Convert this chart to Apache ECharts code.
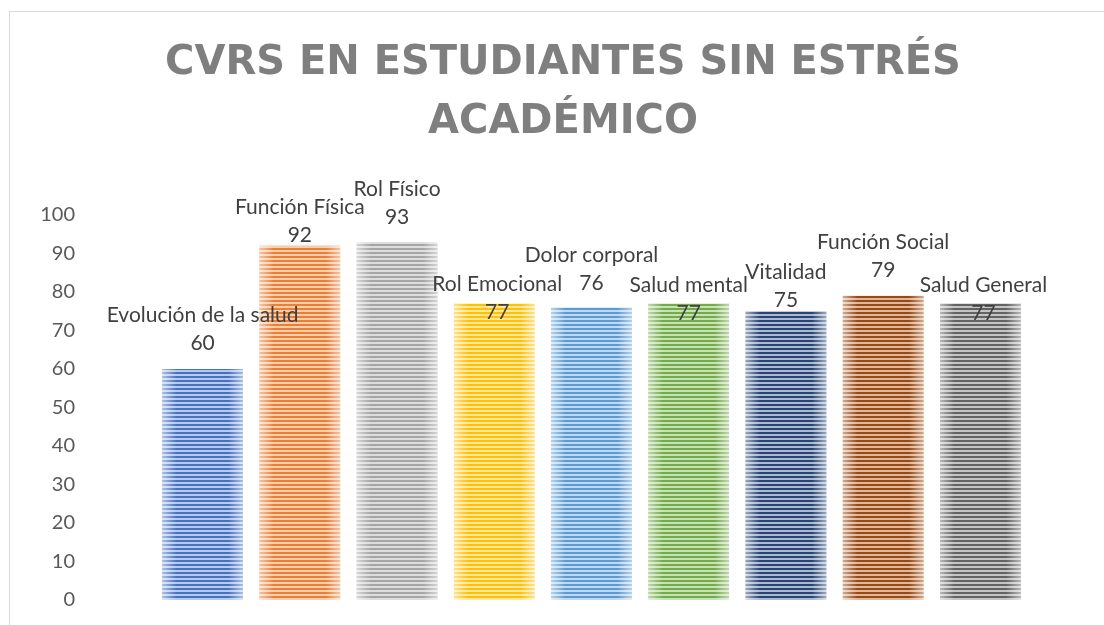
<!DOCTYPE html>
<html lang="es">
<head>
  <meta charset="UTF-8">
  <title>CVRS en estudiantes sin estrés académico</title>
  <script src="https://cdn.jsdelivr.net/npm/echarts@6/dist/echarts.min.js"></script>
  <style>
    html, body {
      margin: 0;
      padding: 0;
      background: #ffffff;
      overflow: hidden;
    }
    #frame {
      position: absolute;
      left: 9px;
      top: 11px;
      width: 1200px;
      height: 700px;
      border: 1px solid #d9d9d9;
      pointer-events: none;
    }
    #chart {
      position: absolute;
      left: 0;
      top: 0;
      width: 1104px;
      height: 625px;
    }
  </style>
</head>
<body>
  <div id="frame"></div>
  <div id="chart"></div>

  <script>
    // data
    const categories = [
      'Evolución de la salud', 'Función Física', 'Rol Físico', 'Rol Emocional',
      'Dolor corporal', 'Salud mental', 'Vitalidad', 'Función Social', 'Salud General'
    ];
    const values = [60, 92, 93, 77, 76, 77, 75, 79, 77];
    const yTicks = [0, 10, 20, 30, 40, 50, 60, 70, 80, 90, 100];

    // office palette, one colour per bar
    const barColors = ['#4472C4', '#ED7D31', '#A5A5A5', '#FFC000', '#5B9BD5',
                       '#70AD47', '#264478', '#9E480E', '#636363'];
    // hand-placed label nudges (Excel moved some labels around)
    const labelNudge = [[0, -7], [0, 8], [0, -6], [3, 28], [0, -5],
                        [0, 29], [0, 8], [0, -7], [3, 29]];

    function mix(hex, amt) {
      const n = parseInt(hex.slice(1), 16);
      const r = n >> 16, g = (n >> 8) & 255, b = n & 255;
      const f = c => Math.round(c + (255 - c) * amt);
      return `rgb(${f(r)},${f(g)},${f(b)})`;
    }

    // horizontal stripes: 2px full colour, 2px light
    function stripes(hex) {
      const c = document.createElement('canvas');
      c.width = 4;
      c.height = 4;
      const ctx = c.getContext('2d');
      ctx.fillStyle = mix(hex, 0.62);
      ctx.fillRect(0, 0, 4, 4);
      ctx.fillStyle = hex;
      ctx.fillRect(0, 0, 4, 2);
      return { image: c, repeat: 'repeat' };
    }

    const myChart = echarts.init(document.getElementById('chart'));

    const option = {
      animation: false,
      title: {
        text: 'CVRS EN ESTUDIANTES SIN ESTRÉS\nACADÉMICO',
        left: 563,
        top: 34,
        padding: 0,
        textAlign: 'center',
        textStyle: {
          fontFamily: '"DejaVu Sans", sans-serif',
          fontWeight: 'bold',
          fontSize: 40,
          lineHeight: 59,
          color: '#7f7f7f'
        }
      },
      grid: {
        left: 154,
        right: 75,
        top: 215,
        bottom: 25
      },
      xAxis: {
        type: 'category',
        data: categories,
        axisLine: { show: false },
        axisTick: { show: false },
        axisLabel: { show: false }
      },
      yAxis: {
        type: 'value',
        min: yTicks[0],
        max: yTicks[yTicks.length - 1],
        interval: 10,
        splitLine: { show: false },
        axisLine: { show: false },
        axisTick: { show: false },
        axisLabel: {
          margin: 79,
          fontFamily: 'Lato, sans-serif',
          fontSize: 20,
          color: '#595959'
        }
      },
      series: [
        {
          type: 'bar',
          barCategoryGap: '17%',
          data: values.map((v, i) => ({
            value: v,
            itemStyle: { color: stripes(barColors[i]) }
          }))
        },
        {
          // soft light edges on each bar, also carries the labels
          type: 'bar',
          barGap: '-100%',
          barCategoryGap: '17%',
          z: 3,
          data: values.map((v, i) => ({
            value: v,
            label: { offset: labelNudge[i] }
          })),
          itemStyle: {
            color: {
              type: 'linear', x: 0, y: 0, x2: 1, y2: 0,
              colorStops: [
                { offset: 0, color: 'rgba(255,255,255,0.55)' },
                { offset: 0.18, color: 'rgba(255,255,255,0)' },
                { offset: 0.82, color: 'rgba(255,255,255,0)' },
                { offset: 1, color: 'rgba(255,255,255,0.55)' }
              ]
            }
          },
          label: {
            show: true,
            position: 'top',
            distance: 5,
            fontFamily: 'Lato, sans-serif',
            fontSize: 21,
            lineHeight: 28,
            color: '#404040',
            formatter: p => categories[p.dataIndex] + '\n' + p.value
          }
        }
      ]
    };

    myChart.setOption(option);
  </script>
</body>
</html>
